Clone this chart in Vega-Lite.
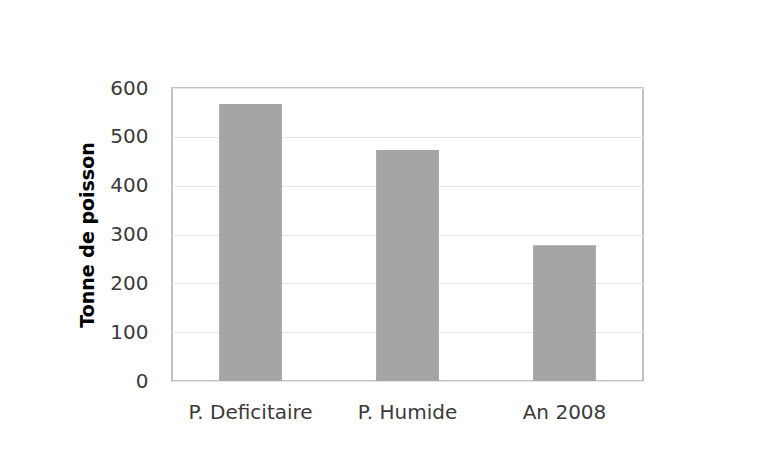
{
  "$schema": "https://vega.github.io/schema/vega-lite/v6.json",
  "width": 471,
  "height": 293,
  "autosize": {"type": "none"},
  "padding": {"left": 172, "top": 88, "right": 120, "bottom": 86},
  "background": "#ffffff",
  "data": {"values": [
    {"periode": "P. Deficitaire", "tonnes": 567},
    {"periode": "P. Humide", "tonnes": 473},
    {"periode": "An 2008", "tonnes": 278}
  ]},
  "mark": {"type": "bar", "color": "#a5a5a5"},
  "encoding": {
    "x": {
      "field": "periode", "type": "nominal", "sort": null,
      "scale": {"paddingInner": 0.6, "paddingOuter": 0.3},
      "axis": {"title": null, "labelAngle": 0, "ticks": false, "domain": false, "labelFont": "DejaVu Sans", "labelFontSize": 20, "labelColor": "#3a3a3a", "labelPadding": 21}
    },
    "y": {
      "field": "tonnes", "type": "quantitative",
      "scale": {"domain": [0, 600]},
      "axis": {"title": "Tonne de poisson", "values": [0,100,200,300,400,500,600], "ticks": false, "domain": false, "labelFont": "DejaVu Sans", "labelFontSize": 20, "labelColor": "#3a3a3a", "labelPadding": 24, "titleFont": "DejaVu Sans", "titleFontSize": 19, "titleFontWeight": "bold", "titleColor": "#000000", "titlePadding": 12, "gridColor": "#e6e6e6"}
    }
  },
  "config": {"view": {"stroke": "#c8c0bf", "strokeWidth": 2}}
}
